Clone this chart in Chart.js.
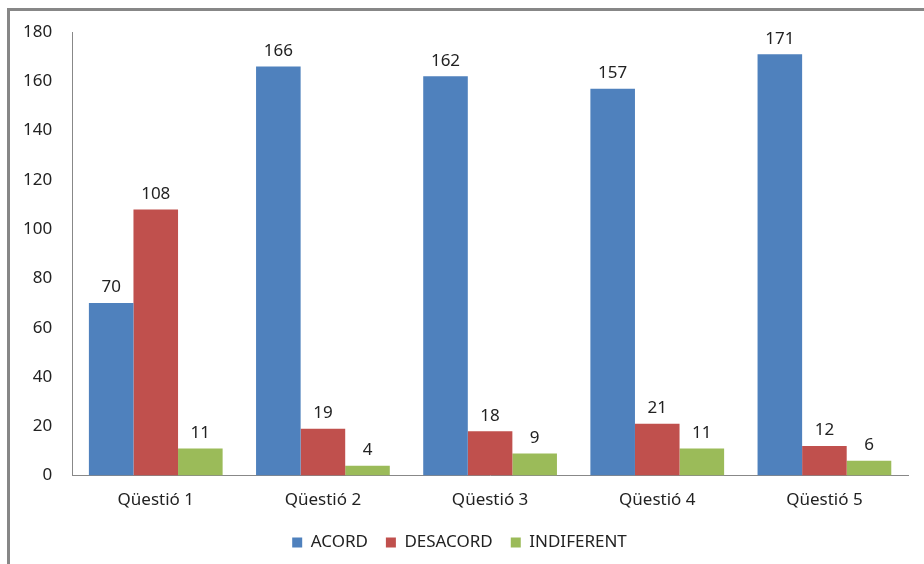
<!DOCTYPE html>
<html>
<head>
<meta charset="utf-8">
<script src="https://cdn.jsdelivr.net/npm/chart.js@4/dist/chart.umd.min.js"></script>
<style>
  html, body { margin: 0; padding: 0; background: #fff; }
  #wrap { position: relative; width: 924px; height: 564px; overflow: hidden; }
  #frame { position: absolute; left: 7px; top: 8px; width: 1000px; height: 1000px;
           border-left: 3px solid #878787; border-top: 3px solid #878787; }
  #chart { position: absolute; left: 0; top: 0; }
</style>
</head>
<body>
<div id="wrap">
  <div id="frame"></div>
  <canvas id="chart" width="924" height="564"></canvas>
</div>
<script>
const categories = ["Qüestió 1", "Qüestió 2", "Qüestió 3", "Qüestió 4", "Qüestió 5"]
const acord = [70, 166, 162, 157, 171]
const desacord = [108, 19, 18, 21, 12]
const indiferent = [11, 4, 9, 11, 6]

const FONT = "'Noto Sans', sans-serif"

// draws the value above every bar
const valueLabels = {
  id: 'valueLabels',
  afterDatasetsDraw(chart) {
    const ctx = chart.ctx
    ctx.save()
    ctx.font = "17px " + FONT
    ctx.fillStyle = "#222"
    ctx.textAlign = "center"
    ctx.textBaseline = "bottom"
    chart.data.datasets.forEach((ds, i) => {
      chart.getDatasetMeta(i).data.forEach((bar, j) => {
        ctx.fillText(ds.data[j], bar.x, bar.y - 7)
      })
    })
    ctx.restore()
  }
}

var CHART = document.getElementById("chart")
let myChart = new Chart(CHART, {
  type: 'bar',
  data: {
    labels: categories,
    datasets: [
      { label: "ACORD", backgroundColor: "#4F81BD", data: acord },
      { label: "DESACORD", backgroundColor: "#C0504D", data: desacord },
      { label: "INDIFERENT", backgroundColor: "#9BBB59", data: indiferent }
    ]
  },
  options: {
    responsive: false,
    animation: false,
    layout: { padding: { top: 32, right: 16, left: 11, bottom: 3 } },
    datasets: { bar: { categoryPercentage: 0.8, barPercentage: 1.0 } },
    scales: {
      x: {
        grid: { display: false },
        border: { color: "#888", width: 1 },
        ticks: { color: "#222", font: { family: FONT, size: 17 }, padding: 6 }
      },
      y: {
        min: 0, max: 180,
        grid: { display: false },
        border: { color: "#888", width: 1 },
        ticks: { stepSize: 20, color: "#222", font: { family: FONT, size: 17 }, padding: 12 }
      }
    },
    plugins: {
      legend: {
        position: 'bottom',
        labels: { boxWidth: 10, boxHeight: 10, color: "#222", font: { family: FONT, size: 17 }, padding: 18 }
      },
      tooltip: { enabled: false }
    }
  },
  plugins: [valueLabels]
})
</script>
</body>
</html>
